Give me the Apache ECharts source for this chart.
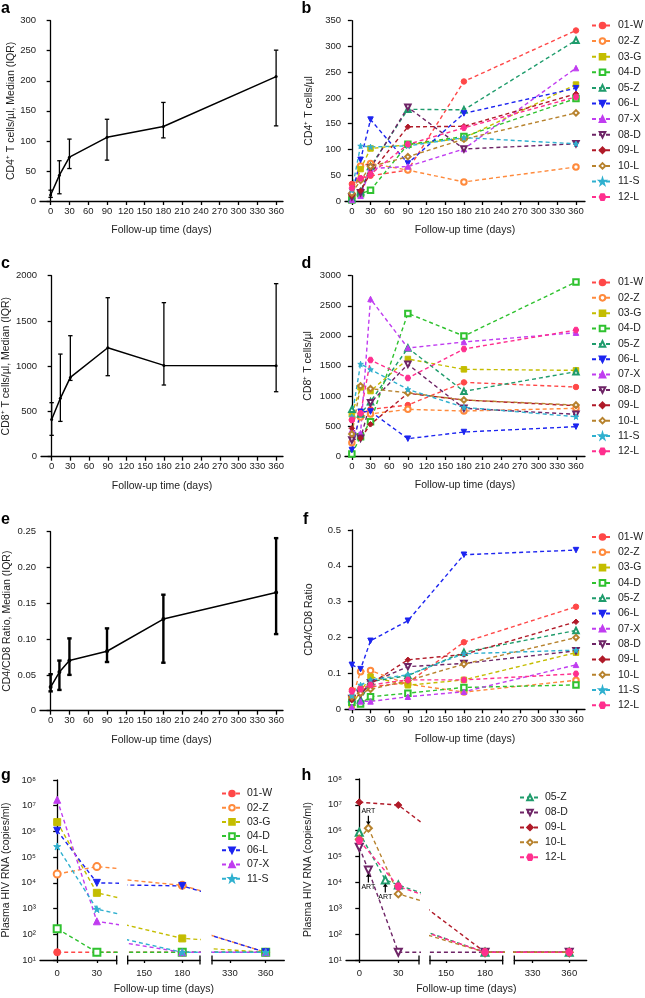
<!DOCTYPE html>
<html><head><meta charset="utf-8">
<script src="https://cdn.jsdelivr.net/npm/echarts@6/dist/echarts.min.js"></script>
<style>html,body{margin:0;padding:0;background:#fff}#c{width:645px;height:998px}</style>
</head><body><div id="c"></div>
<script>
const FONT = '"Liberation Sans", Arial, sans-serif';

// ---------- data ----------
const days = [0, 14, 30, 90, 180, 360];
const xTicks = [0, 30, 60, 90, 120, 150, 180, 210, 240, 270, 300, 330, 360];
const patients = ['01-W','02-Z','03-G','04-D','05-Z','06-L','07-X','08-D','09-L','10-L','11-S','12-L'];

// panel a: CD4 median (IQR)
const cd4Median = [10, 43, 73, 106, 124, 207];
const cd4Q1 = [6, 12, 54, 68, 105, 125];
const cd4Q3 = [18, 67, 103, 136, 164, 251];
// panel c: CD8 median (IQR)
const cd8Median = [412, 645, 876, 1204, 1009, 1006];
const cd8Q1 = [236, 390, 843, 895, 792, 718];
const cd8Q3 = [597, 1134, 1337, 1757, 1702, 1912];
// panel e: CD4/CD8 ratio median (IQR)
const ratioMedian = [0.033, 0.054, 0.070, 0.083, 0.128, 0.165];
const ratioQ1 = [0.027, 0.029, 0.050, 0.068, 0.067, 0.107];
const ratioQ3 = [0.051, 0.070, 0.101, 0.115, 0.162, 0.241];

// panel b: CD4 per patient (rows follow `patients`)
const cd4ByPatient = [
  [33, 43, 49, 60, 232, 331],
  [12, 68, 73, 60, 37, 66],
  [8, 62, 102, 109, 122, 226],
  [2, 14, 21, 110, 125, 199],
  [5, 18, 67, 178, 177, 312],
  [12, 80, 158, 73, 170, 219],
  [2, 10, 63, 67, 101, 258],
  [8, 16, 64, 182, 101, 111],
  [10, 20, 54, 144, 145, 208],
  [15, 40, 67, 86, 120, 171],
  [21, 107, 105, 107, 123, 111],
  [25, 44, 52, 110, 142, 202]
];
// panel d: CD8 per patient
const cd8ByPatient = [
  [600, 700, 776, 848, 1225, 1148],
  [222, 650, 700, 776, 749, 793],
  [693, 1142, 1081, 1614, 1442, 1425],
  [33, 320, 571, 2373, 1996, 2895],
  [776, 700, 904, 1797, 1076, 1403],
  [100, 737, 740, 288, 399, 488],
  [432, 380, 2612, 1797, 1897, 2052],
  [266, 294, 887, 1525, 793, 693],
  [460, 294, 527, 1043, 932, 837],
  [366, 1165, 1120, 1050, 932, 848],
  [654, 1531, 1440, 1109, 810, 654],
  [600, 710, 1597, 1298, 1780, 2096]
];
// panel f: CD4/CD8 ratio per patient
const ratioByPatient = [
  [0.054, 0.060, 0.063, 0.074, 0.187, 0.286],
  [0.031, 0.105, 0.108, 0.070, 0.048, 0.081],
  [0.012, 0.050, 0.091, 0.067, 0.082, 0.158],
  [0.020, 0.015, 0.035, 0.045, 0.061, 0.068],
  [0.030, 0.026, 0.077, 0.094, 0.159, 0.220],
  [0.124, 0.112, 0.191, 0.247, 0.431, 0.444],
  [0.007, 0.022, 0.022, 0.035, 0.049, 0.124],
  [0.030, 0.043, 0.074, 0.119, 0.128, 0.163],
  [0.026, 0.043, 0.071, 0.138, 0.153, 0.244],
  [0.035, 0.045, 0.056, 0.080, 0.126, 0.200],
  [0.038, 0.068, 0.082, 0.096, 0.155, 0.165],
  [0.050, 0.056, 0.068, 0.082, 0.082, 0.099]
];

// panel g: plasma HIV RNA
const gPatients = ['01-W','02-Z','03-G','04-D','06-L','07-X','11-S'];
const gDays = [
  [0, 30, 180, 360], [0, 30, 180, 360], [0, 30, 180, 360], [0, 30, 180, 360],
  [0, 30, 180, 360], [0, 30, 180, 360], [0, 30, 180, 360]
];
const gRna = [
  [20, 20, 20, 20],
  [2.2e4, 4.3e4, 8.0e3, 20],
  [2.3e6, 4.1e3, 69, 20],
  [165, 20, 20, 20],
  [1.07e6, 1.0e4, 7.6e3, 20],
  [1.7e7, 320, 20, 20],
  [2.6e5, 950, 20, 20]
];
const gXTicks = [[0, 30], [150, 180], [330, 360]];

// panel h: plasma HIV RNA
const hPatients = ['05-Z','08-D','09-L','10-L','12-L'];
const hDays = [
  [0, 20, 30, 180, 360],
  [0, 7, 30, 180, 360],
  [0, 30, 180, 360],
  [0, 7, 30, 180, 360],
  [0, 30, 180, 360]
];
const hRna = [
  [8.7e5, 1.25e4, 8.0e3, 20, 20],
  [2.3e5, 3.0e4, 20, 20, 20],
  [1.26e7, 9.8e6, 20, 20],
  [4.7e5, 1.25e6, 3.6e3, 20, 20],
  [4.2e5, 7.0e3, 20, 20]
];
// ART start annotations (panel h)
const artPatients = ['10-L', '08-D', '05-Z'];
const artDays = [7, 7, 20];
const artValues = [1.25e6, 3.0e4, 1.25e4];
const artSides = ['above', 'below', 'below'];

// ---------- styles ----------
const STAR = 'path://M50,0 L61,35 L98,35 L68,57 L79,91 L50,70 L21,91 L32,57 L2,35 L39,35 Z';
const HEX = 'path://M25,0 L75,0 L100,50 L75,100 L25,100 L0,50 Z';
const ARROW_UP = 'path://M4,0 L8,5 L5,5 L5,14 L3,14 L3,5 L0,5 Z';
const ARROW_DOWN = 'path://M3,0 L5,0 L5,9 L8,9 L4,14 L0,9 L3,9 Z';
const pStyle = {
  '01-W': {color: '#ff4848', symbol: 'circle', rot: 0},
  '02-Z': {color: '#ff8a3c', symbol: 'emptyCircle', rot: 0},
  '03-G': {color: '#c4bd00', symbol: 'rect', rot: 0},
  '04-D': {color: '#2fc22f', symbol: 'emptyRect', rot: 0},
  '05-Z': {color: '#1f9c6c', symbol: 'emptyTriangle', rot: 0},
  '06-L': {color: '#1c24f0', symbol: 'triangle', rot: 180},
  '07-X': {color: '#c03cf0', symbol: 'triangle', rot: 0},
  '08-D': {color: '#6e2466', symbol: 'emptyTriangle', rot: 180},
  '09-L': {color: '#b01a28', symbol: 'diamond', rot: 0},
  '10-L': {color: '#b7822d', symbol: 'emptyDiamond', rot: 0},
  '11-S': {color: '#2fb0cf', symbol: STAR, rot: 0},
  '12-L': {color: '#ff2f8e', symbol: HEX, rot: 0}
};
const sup = ['⁰','¹','²','³','⁴','⁵','⁶','⁷','⁸','⁹'];

const grids = [], xAxes = [], yAxes = [], series = [], legends = [], graphics = [];
const axisLineStyle = {color: '#000', width: 1.3};
const labelStyle = {fontSize: 9.5, color: '#222', fontFamily: FONT};
const nameStyle = {fontSize: 10.5, color: '#222', fontFamily: FONT};

function addGrid(left, top, width, height) {
  grids.push({left, top, width, height, containLabel: false});
  return grids.length - 1;
}
function linX(gi, min, max) {
  xAxes.push({
    type: 'value', gridIndex: gi, min, max,
    axisLine: {show: true, onZero: false, lineStyle: axisLineStyle},
    axisTick: {show: true, length: 4, customValues: xTicks, lineStyle: axisLineStyle},
    axisLabel: Object.assign({customValues: xTicks, margin: 5}, labelStyle),
    splitLine: {show: false},
    name: 'Follow-up time (days)', nameLocation: 'middle', nameGap: 24, nameTextStyle: nameStyle
  });
}
function linY(gi, max, interval, name, nameGap, fmt) {
  yAxes.push({
    type: 'value', gridIndex: gi, min: 0, max, interval,
    axisLine: {show: true, lineStyle: axisLineStyle},
    axisTick: {show: true, length: 4, lineStyle: axisLineStyle},
    axisLabel: Object.assign({margin: 4, formatter: fmt || (v => String(v))}, labelStyle),
    splitLine: {show: false},
    name, nameLocation: 'middle', nameGap, nameRotate: 90, nameTextStyle: nameStyle
  });
}
function makeErr(lw, cap) {
  return function (params, api) {
    const x = api.value(0), lo = api.value(1), hi = api.value(2);
    const a = api.coord([x, lo]), b = api.coord([x, hi]);
    const st = {stroke: '#000', lineWidth: lw};
    return {type: 'group', children: [
      {type: 'line', shape: {x1: a[0], y1: a[1], x2: b[0], y2: b[1]}, style: st},
      {type: 'line', shape: {x1: a[0] - cap, y1: a[1], x2: a[0] + cap, y2: a[1]}, style: st},
      {type: 'line', shape: {x1: b[0] - cap, y1: b[1], x2: b[0] + cap, y2: b[1]}, style: st}
    ]};
  };
}
function summaryPanel(gi, med, q1, q3, lw, sym) {
  series.push({
    type: 'line', xAxisIndex: gi, yAxisIndex: gi,
    data: days.map((d, i) => [d, med[i]]),
    lineStyle: {color: '#000', width: 1.5}, itemStyle: {color: '#000'},
    symbol: 'circle', symbolSize: sym, z: 3
  });
  series.push({
    type: 'custom', xAxisIndex: gi, yAxisIndex: gi,
    data: days.map((d, i) => [d, q1[i], q3[i]]),
    encode: {x: 0, y: [1, 2]}, renderItem: makeErr(lw, 2.2), z: 2
  });
}
function patientSeries(name, data, ai, size) {
  const st = pStyle[name];
  return {
    type: 'line', name, xAxisIndex: ai, yAxisIndex: ai, data,
    symbol: st.symbol, symbolRotate: st.rot, symbolSize: size,
    lineStyle: {color: st.color, width: 1.4, type: [4, 3]},
    itemStyle: {color: st.color, borderColor: st.color, borderWidth: 1},
    clip: true
  };
}
function patientPanel(gi, table) {
  patients.forEach((p, j) => {
    series.push(patientSeries(p, days.map((d, i) => [d, table[j][i]]), gi, 5.5));
  });
}
function legendAt(left, top, gap, names, w) {
  legends.push({
    data: names, orient: 'vertical', left, top, padding: 0,
    itemWidth: w, itemHeight: 7, itemGap: gap, selectedMode: false,
    textStyle: {fontSize: 10.5, color: '#222', fontFamily: FONT}
  });
}
function logPanel(segs, top, height, names, dArr, vArr, yName, yGap) {
  const idx = [];
  segs.forEach((s, k) => {
    const gi = addGrid(s.left, top, s.width, height);
    idx.push(gi);
    const capSym = [k === 0 ? 'none' : 'rect', k === 2 ? 'none' : 'rect'];
    xAxes.push({
      type: 'value', gridIndex: gi, min: s.min, max: s.max,
      axisLine: {show: true, onZero: false, lineStyle: axisLineStyle, symbol: capSym, symbolSize: [9, 1.3]},
      axisTick: {show: true, length: 3, customValues: gXTicks[k], lineStyle: axisLineStyle},
      axisLabel: Object.assign({customValues: gXTicks[k], margin: 8}, labelStyle),
      splitLine: {show: false},
      name: k === 1 ? 'Follow-up time (days)' : '', nameLocation: 'middle', nameGap: 24, nameTextStyle: nameStyle
    });
    yAxes.push({
      type: 'log', logBase: 10, min: 10, max: 1e8, gridIndex: gi, show: k === 0,
      axisLine: {show: true, lineStyle: axisLineStyle},
      axisTick: {show: true, length: 4, lineStyle: axisLineStyle},
      axisLabel: Object.assign({margin: 4, formatter: v => '10' + sup[Math.round(Math.log10(v))]}, labelStyle),
      splitLine: {show: false}, minorTick: {show: false},
      name: k === 0 ? yName : '', nameLocation: 'middle', nameGap: yGap, nameRotate: 90, nameTextStyle: nameStyle
    });
    names.forEach((p, j) => {
      series.push(patientSeries(p, dArr[j].map((d, i) => [d, vArr[j][i]]), gi, 7));
    });
  });
  return idx;
}

// ---------- panels ----------
const gA = addGrid(40, 20.7, 243, 180.3); linX(gA, -17, 371);
linY(gA, 300, 50, 'CD4⁺ T cells/µl, Median (IQR)', 22);
const gB = addGrid(345, 20.7, 240, 180.3); linX(gB, -11, 374.5);
linY(gB, 350, 50, 'CD4⁺ T cells/µl', 30);
const gC = addGrid(40, 275.7, 243, 181); linX(gC, -17, 371);
linY(gC, 2000, 500, 'CD8⁺ T cells/µl, Median (IQR)', 27);
const gD = addGrid(345, 275.7, 240, 180.3); linX(gD, -11, 374.5);
linY(gD, 3000, 500, 'CD8⁺ T cells/µl', 31);
const gE = addGrid(40, 531.7, 243, 179); linX(gE, -17, 371);
linY(gE, 0.25, 0.05, 'CD4/CD8 Ratio, Median (IQR)', 27, v => v === 0 ? '0' : v.toFixed(2));
const gF = addGrid(345, 530, 240, 179.3); linX(gF, -11, 374.5);
linY(gF, 0.5, 0.1, 'CD4/CD8 Ratio', 30, v => v === 0 ? '0' : v.toFixed(1));

summaryPanel(gA, cd4Median, cd4Q1, cd4Q3, 1.3, 3);
summaryPanel(gC, cd8Median, cd8Q1, cd8Q3, 1.3, 3);
summaryPanel(gE, ratioMedian, ratioQ1, ratioQ3, 2.4, 4);
patientPanel(gB, cd4ByPatient);
patientPanel(gD, cd8ByPatient);
patientPanel(gF, ratioByPatient);
legendAt(591, 20, 4.6, patients, 21);
legendAt(591, 277, 4.35, patients, 21);
legendAt(591, 531.5, 4.3, patients, 21);

const gIdx = logPanel([
  {left: 40, width: 76.7, min: -13, max: 45},
  {left: 127.7, width: 72.3, min: 137, max: 194},
  {left: 212, width: 72.3, min: 315, max: 375.6}
], 780, 180, gPatients, gDays, gRna, 'Plasma HIV RNA (copies/ml)', 28);
const hIdx = logPanel([
  {left: 346, width: 73, min: -10.2, max: 45.9},
  {left: 430, width: 72.7, min: 137.7, max: 193.6},
  {left: 514.3, width: 72.4, min: 315, max: 374.3}
], 779, 181, hPatients, hDays, hRna, 'Plasma HIV RNA (copies/ml)', 32);
legendAt(221, 788, 3.2, gPatients, 20);
legendAt(519, 792, 3.95, hPatients, 20);

// ART annotations on the first segment of panel h
artPatients.forEach((p, k) => {
  const s = series.find(sr => sr.name === p && sr.xAxisIndex === hIdx[0]);
  const above = artSides[k] === 'above';
  s.markPoint = s.markPoint || {data: [], silent: true};
  s.markPoint.data.push({
    coord: [artDays[k], artValues[k]],
    symbol: above ? ARROW_DOWN : ARROW_UP, symbolSize: [5, 9],
    symbolOffset: [0, above ? -8 : 8],
    itemStyle: {color: '#000'},
    label: {show: true, formatter: 'ART', position: above ? 'top' : 'bottom', distance: 1,
      fontSize: 7, color: '#000', fontFamily: FONT}
  });
});

// panel letters
[['a', 1, 8.7], ['b', 301.5, 8.7], ['c', 1, 263.5], ['d', 301.5, 263.5],
 ['e', 1, 520], ['f', 303, 520], ['g', 1, 775.5], ['h', 301.5, 775.5]].forEach(t => {
  graphics.push({type: 'text', x: t[1], y: t[2],
    style: {text: t[0], font: 'bold 16px ' + FONT, fill: '#000', verticalAlign: 'middle', align: 'left'}});
});

const chart = echarts.init(document.getElementById('c'), null, {renderer: 'canvas'});
chart.setOption({
  animation: false,
  backgroundColor: '#fff',
  textStyle: {fontFamily: FONT},
  grid: grids, xAxis: xAxes, yAxis: yAxes, series, legend: legends, graphic: graphics
});
</script></body></html>
